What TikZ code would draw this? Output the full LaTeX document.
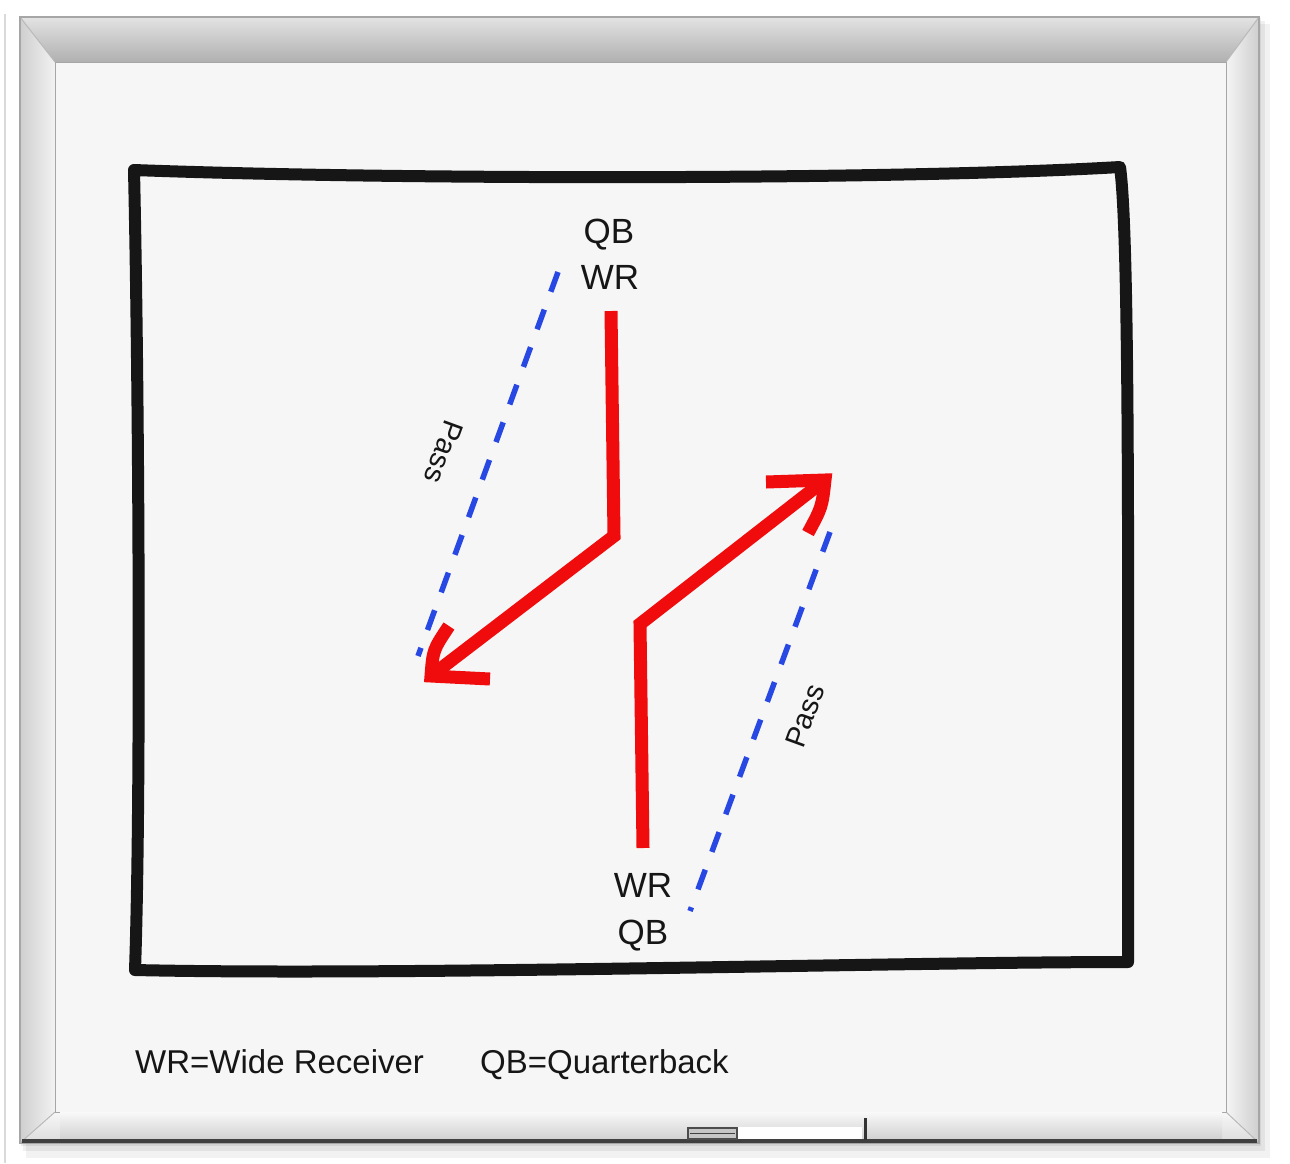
\documentclass[tikz,border=0pt]{standalone}
\usepackage{fontspec}
\setmainfont{Liberation Sans}
\definecolor{redpen}{RGB}{240,12,12}
\definecolor{bluepen}{RGB}{40,72,228}
\definecolor{ink}{RGB}{22,22,22}
\definecolor{boardcol}{RGB}{246,246,246}
\begin{document}
\begin{tikzpicture}[x=1pt,y=-1pt,
  lbl/.style={font=\fontsize{35}{38}\selectfont, text=ink, inner sep=0pt},
  leg/.style={font=\fontsize{33}{36}\selectfont, text=ink, inner sep=0pt},
  passlbl/.style={font=\fontsize{29}{32}\selectfont, text=ink, inner sep=0pt},
  route/.style={draw=redpen, line width=13pt, line join=miter, miter limit=3, line cap=butt},
  barb/.style={draw=redpen, line width=13pt, line join=miter, miter limit=3, line cap=butt},
  passline/.style={draw=bluepen, line width=5.5pt, dash pattern=on 21pt off 19pt},
  inkline/.style={draw=ink, line width=12pt, line join=round, line cap=round}]
\useasboundingbox (0,0) rectangle (1290,1163);
\fill[white] (0,0) rectangle (1290,1163);
\draw[gray!30, line width=1.5pt] (5,14) -- (5,1163);
% shadow
\fill[black, opacity=0.05] (26,24) rectangle (1270,1158);
\fill[black, opacity=0.06] (23,21) rectangle (1265,1151);
\fill[black, opacity=0.07] (21,18) rectangle (1261,1146);
% frame
\fill[gray!30] (20,17) rectangle (1259,1143);
\shade[top color=gray!22, bottom color=gray!62] (20,17) -- (1259,17) -- (1226,62) -- (55,62) -- cycle;
\shade[left color=gray!38, right color=gray!10] (20,17) -- (55,62) -- (55,1112) -- (20,1143) -- cycle;
\shade[left color=gray!8, right color=gray!38] (1259,17) -- (1226,62) -- (1226,1112) -- (1259,1143) -- cycle;
\shade[top color=gray!6, bottom color=gray!28] (20,1143) -- (55,1112) -- (1226,1112) -- (1259,1143) -- cycle;
\draw[gray!55, line width=1pt] (20,17) -- (55,62) (1259,17) -- (1226,62) (20,1143) -- (55,1112) (1259,1143) -- (1226,1112);
\draw[gray!70, line width=1.2pt] (20,17) rectangle (1259,1143);
\fill[boardcol] (55,62) rectangle (1226,1112);
\draw[gray!70, line width=1pt] (55,62) rectangle (1226,1112);
% tray
\shade[top color=gray!5, bottom color=gray!35] (60,1112) rectangle (1222,1138);
\draw[black!75, line width=4pt] (22,1141) -- (1257,1141);
\fill[white] (737,1127) rectangle (862,1139);
\draw[black!70, line width=1.5pt, fill=gray!45] (688,1128) rectangle (737,1139);
\draw[black!75, line width=1pt] (690,1133.5) -- (735,1133.5);
\draw[black!80, line width=3pt] (865,1118) -- (865,1140);
% hand-drawn field
\coordinate (ftl) at (134,170);
\coordinate (ftr) at (1120,167);
\coordinate (fbr) at (1128,962);
\coordinate (fbl) at (135,970);
\draw[inkline] (ftl) .. controls (400,180) and (900,180) .. (ftr)
  .. controls (1130,240) and (1128,600) .. (fbr)
  .. controls (900,962) and (400,976) .. (fbl)
  .. controls (141,800) and (139,400) .. cycle;
% labels
\node[lbl, anchor=base] (qbtop) at (609,243) {QB};
\node[lbl, anchor=base] (wrtop) at (610,289) {WR};
\node[lbl, anchor=base] (wrbot) at (643,897) {WR};
\node[lbl, anchor=base] (qbbot) at (643,944) {QB};
\node[leg, anchor=base west] (legwr) at (135,1073) {WR=Wide Receiver};
\node[leg, anchor=base west] (legqb) at (480,1073) {QB=Quarterback};
% pass lines
\coordinate (p1a) at (558,272);
\coordinate (p1b) at (418,656);
\coordinate (p2a) at (830,532);
\coordinate (p2b) at (690,911);
\draw[passline] (p1a) -- (p1b);
\draw[passline] (p2a) -- (p2b);
\node[passlbl, rotate=-110] (pass1) at (444,452) {Pass};
\node[passlbl, rotate=70] (pass2) at (805,716) {Pass};
% routes
\coordinate (r1s) at (611,311);
\coordinate (r1c) at (614,536);
\coordinate (r1t) at (431,676);
\coordinate (r1b1) at (490,679);
\coordinate (r1b2) at (449,626);
\draw[route] (r1s) -- (r1c) -- (r1t);
\draw[barb] (r1b1) -- (r1t) .. controls (433,650) .. (r1b2);
\coordinate (r2s) at (643,848);
\coordinate (r2c) at (640,624);
\coordinate (r2t) at (825,480);
\coordinate (r2b1) at (766,482);
\coordinate (r2b2) at (808,533);
\draw[route] (r2s) -- (r2c) -- (r2t);
\draw[barb] (r2b1) -- (r2t) .. controls (822,507) .. (r2b2);
\end{tikzpicture}
\end{document}
